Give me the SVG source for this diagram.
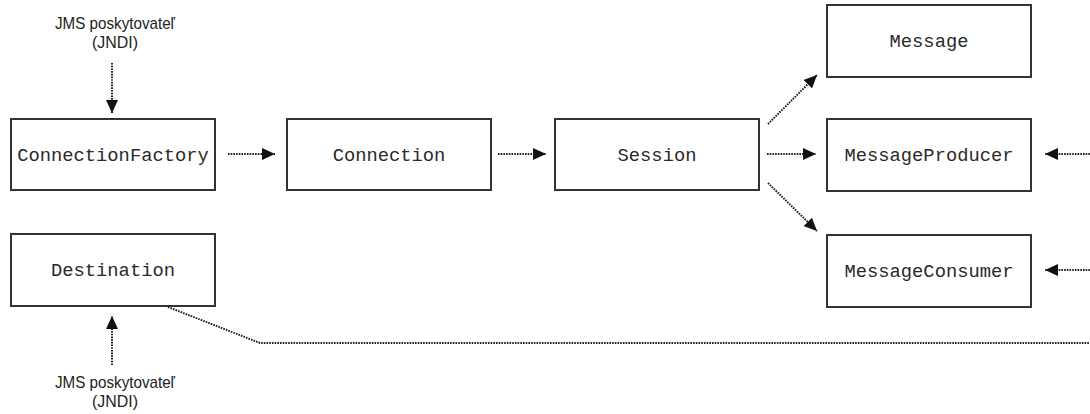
<svg xmlns="http://www.w3.org/2000/svg" width="1090" height="414" viewBox="0 0 1090 414">
  <style>
    .box { fill: #fff; stroke: #333; stroke-width: 2; }
    .cls { font-family: "Liberation Mono", "Courier New", monospace; font-size: 18.8px; fill: #2a2a2a; text-anchor: middle; }
    .lbl { font-family: "Liberation Sans", Arial, sans-serif; font-size: 17px; fill: #222; text-anchor: middle; }
    .dot { fill: none; stroke: #222; stroke-width: 2; stroke-dasharray: 1.6 1.1; }
  </style>
  <defs>
    <marker id="arrow" viewBox="0 0 13 12" refX="13" refY="6" markerWidth="13" markerHeight="12" markerUnits="userSpaceOnUse" orient="auto">
      <path d="M0,0 L13,6 L0,12 Z" fill="#111"/>
    </marker>
  </defs>

  <rect width="1090" height="414" fill="#fff"/>

  <!-- JNDI lookup labels (condensed sans) -->
  <g id="jndi-top">
    <text class="lbl" x="115" y="29" textLength="120" lengthAdjust="spacingAndGlyphs">JMS poskytovateľ</text>
    <text class="lbl" x="115" y="48" textLength="46" lengthAdjust="spacingAndGlyphs">(JNDI)</text>
  </g>
  <g id="jndi-bottom">
    <text class="lbl" x="115" y="388" textLength="120" lengthAdjust="spacingAndGlyphs">JMS poskytovateľ</text>
    <text class="lbl" x="115" y="407" textLength="46" lengthAdjust="spacingAndGlyphs">(JNDI)</text>
  </g>

  <!-- API objects -->
  <g id="connection-factory">
    <rect class="box" x="11" y="119" width="204" height="71"/>
    <text class="cls" x="113" y="161">ConnectionFactory</text>
  </g>
  <g id="connection">
    <rect class="box" x="287" y="119" width="204" height="71"/>
    <text class="cls" x="389" y="161">Connection</text>
  </g>
  <g id="session">
    <rect class="box" x="555" y="119" width="204" height="71"/>
    <text class="cls" x="657" y="161">Session</text>
  </g>
  <g id="message">
    <rect class="box" x="827" y="5" width="204" height="72"/>
    <text class="cls" x="929" y="47">Message</text>
  </g>
  <g id="message-producer">
    <rect class="box" x="827" y="119" width="204" height="72"/>
    <text class="cls" x="929" y="161">MessageProducer</text>
  </g>
  <g id="message-consumer">
    <rect class="box" x="827" y="235" width="204" height="72"/>
    <text class="cls" x="929" y="277">MessageConsumer</text>
  </g>
  <g id="destination">
    <rect class="box" x="11" y="234" width="204" height="72"/>
    <text class="cls" x="113" y="276">Destination</text>
  </g>

  <!-- connectors -->
  <g id="connectors">
    <line class="dot" x1="112" y1="63" x2="112" y2="113" marker-end="url(#arrow)"/>
    <line class="dot" x1="112" y1="365" x2="112" y2="316" marker-end="url(#arrow)"/>
    <line class="dot" x1="228" y1="154" x2="275" y2="154" marker-end="url(#arrow)"/>
    <line class="dot" x1="498" y1="154" x2="546" y2="154" marker-end="url(#arrow)"/>
    <line class="dot" x1="767" y1="154" x2="816" y2="154" marker-end="url(#arrow)"/>
    <line class="dot" x1="768" y1="124" x2="817" y2="75" marker-end="url(#arrow)"/>
    <line class="dot" x1="768" y1="183" x2="817" y2="231" marker-end="url(#arrow)"/>
    <line class="dot" x1="1090" y1="154" x2="1045" y2="154" marker-end="url(#arrow)"/>
    <line class="dot" x1="1090" y1="270" x2="1045" y2="270" marker-end="url(#arrow)"/>
    <polyline class="dot" points="168,307 260,343 1090,343"/>
  </g>
</svg>
